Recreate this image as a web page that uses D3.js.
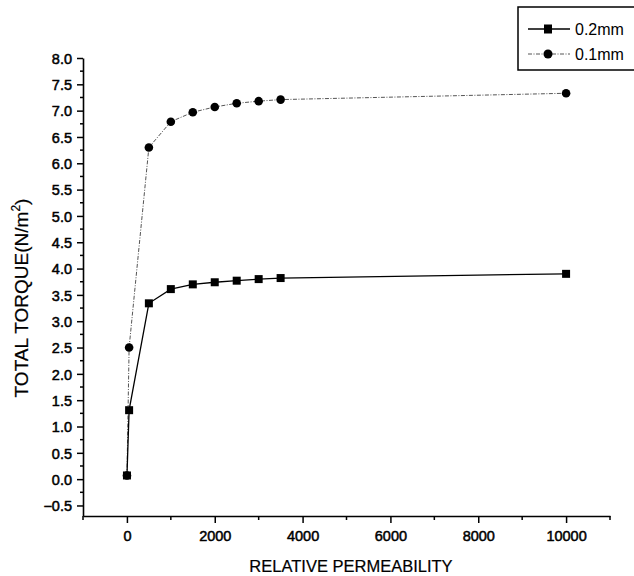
<!DOCTYPE html>
<html><head><meta charset="utf-8">
<script src="https://cdn.jsdelivr.net/npm/d3@7"></script>
<style>body{margin:0;background:#fff;} text{font-family:"Liberation Sans",Arial,sans-serif;fill:#000;}</style>
</head><body>
<svg id="c" width="634" height="576"></svg>
<script>
const permeability = [1, 50, 500, 1000, 1500, 2000, 2500, 3000, 3500, 10000];
const torque02 = [0.07, 1.31, 3.34, 3.61, 3.70, 3.74, 3.77, 3.80, 3.82, 3.90];
const torque01 = [0.07, 2.50, 6.30, 6.79, 6.97, 7.07, 7.14, 7.18, 7.21, 7.33];
const seriesNames = ["0.2mm", "0.1mm"];
const xTicks = [0, 2000, 4000, 6000, 8000, 10000];
const yTicks = [-0.5,0,0.5,1,1.5,2,2.5,3,3.5,4,4.5,5,5.5,6,6.5,7,7.5,8];

const svg = d3.select("#c");
const x = d3.scaleLinear().domain([-1000, 11000]).range([83, 610]);
const y = d3.scaleLinear().domain([-0.7, 8.0]).range([516, 58]);

// axes
const xAxis = d3.axisBottom(x).tickValues(xTicks).tickSize(7).tickSizeOuter(0).tickPadding(8).tickFormat(d3.format("d"));
const gx = svg.append("g").attr("transform", `translate(0,${y(-0.7)})`).call(xAxis);
const xMinor = d3.range(-1000, 11001, 2000);
gx.selectAll(".minor").data(xMinor).join("line").attr("class","minor")
  .attr("x1", d=>x(d)).attr("x2", d=>x(d)).attr("y1",0).attr("y2",4).attr("stroke","#000").attr("stroke-width",1.5);

const yAxis = d3.axisLeft(y).tickValues(yTicks).tickSize(6).tickSizeOuter(0).tickPadding(5).tickFormat(d3.format(".1f"));
const gy = svg.append("g").attr("transform", `translate(${x(-1000)},0)`).call(yAxis);
const yMinor = d3.range(-0.25, 8, 0.5);
gy.selectAll(".minor").data(yMinor).join("line").attr("class","minor")
  .attr("x1",0).attr("x2",-3).attr("y1",d=>y(d)).attr("y2",d=>y(d)).attr("stroke","#000").attr("stroke-width",1.5);

[gx, gy].forEach(g => {
  g.select(".domain").attr("stroke","#000").attr("stroke-width",1.6);
  g.selectAll(".tick line").attr("stroke","#000").attr("stroke-width",1.5);
  g.selectAll(".tick text").attr("font-size", 14.5).attr("font-family","Liberation Sans, Arial, sans-serif").attr("fill","#000")
    .attr("stroke","#000").attr("stroke-width",0.5);
});
gy.selectAll(".tick text").attr("dy","0.36em");

// axis titles
svg.append("text").attr("x", 351).attr("y", 572).attr("text-anchor","middle").attr("font-size",16.5)
  .attr("stroke","#000").attr("stroke-width",0.2).text("RELATIVE PERMEABILITY");
const yt = svg.append("text").attr("transform","translate(28,298) rotate(-90)").attr("text-anchor","middle").attr("font-size",19)
  .attr("stroke","#000").attr("stroke-width",0.2);
yt.append("tspan").text("TOTAL TORQUE(N/m");
yt.append("tspan").attr("font-size",12).attr("dy",-8).text("2");
yt.append("tspan").attr("dy",8).text(")");

// data
const d02 = permeability.map((p,i)=>[p, torque02[i]]);
const d01 = permeability.map((p,i)=>[p, torque01[i]]);
const line = d3.line().x(d=>x(d[0])).y(d=>y(d[1]));

svg.append("path").datum(d01).attr("d", line).attr("fill","none").attr("stroke","#555")
  .attr("stroke-width",1).attr("stroke-dasharray","4,1.5,1,1.5");
svg.append("g").selectAll("circle").data(d01).join("circle")
  .attr("cx", d=>x(d[0])).attr("cy", d=>y(d[1])).attr("r", 4.3).attr("fill","#000");

svg.append("path").datum(d02).attr("d", line).attr("fill","none").attr("stroke","#000").attr("stroke-width",1.3);
svg.append("g").selectAll("rect").data(d02).join("rect")
  .attr("x", d=>x(d[0])-4).attr("y", d=>y(d[1])-4).attr("width",8).attr("height",8).attr("fill","#000");

// legend
const lg = svg.append("g");
lg.append("rect").attr("x",518).attr("y",7).attr("width",130).attr("height",63)
  .attr("fill","none").attr("stroke","#000").attr("stroke-width",1.5);
const rows = [{name: seriesNames[0], yy: 29}, {name: seriesNames[1], yy: 54}];
lg.append("line").attr("x1",528).attr("x2",570).attr("y1",rows[0].yy).attr("y2",rows[0].yy).attr("stroke","#000").attr("stroke-width",1.3);
lg.append("rect").attr("x",544).attr("y",rows[0].yy-4.5).attr("width",8).attr("height",9).attr("fill","#000");
lg.append("line").attr("x1",528).attr("x2",570).attr("y1",rows[1].yy).attr("y2",rows[1].yy).attr("stroke","#555").attr("stroke-width",1).attr("stroke-dasharray","4,1.5,1,1.5");
lg.append("circle").attr("cx",548).attr("cy",rows[1].yy).attr("r",4.5).attr("fill","#000");
rows.forEach(r => lg.append("text").attr("x",575).attr("y",r.yy).attr("dy","0.36em").attr("font-size",16).text(r.name));
</script>
</body></html>
